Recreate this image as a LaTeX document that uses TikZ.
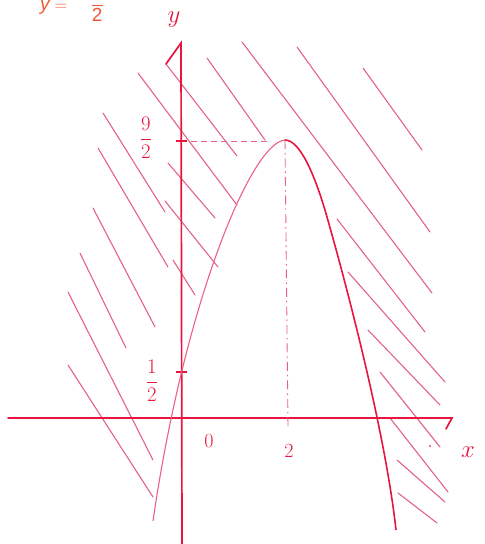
\documentclass[tikz,border=0pt]{standalone}
\usepackage{amsmath}
\usepackage{fontspec}
\newfontfamily\titlefont{Liberation Sans}
\definecolor{axisred}{RGB}{232,22,62}
\definecolor{hatchred}{RGB}{222,70,118}
\definecolor{curvepink}{RGB}{236,95,135}
\definecolor{titleorange}{RGB}{240,88,48}
\begin{document}
\begin{tikzpicture}[x=1pt,y=-1pt,
  axisline/.style={draw=axisred,line width=1.7pt,line cap=round},
  hatch/.style={draw=hatchred,line width=1.1pt,line cap=round,opacity=0.85},
  leftbranch/.style={draw=curvepink,line width=1.1pt},
  rightbranch/.style={draw=axisred,line width=1.6pt},
  guide/.style={draw=curvepink,line width=0.9pt},
  lbl/.style={text=axisred,inner sep=0pt},
  tickmark/.style={draw=axisred,line width=1.6pt}]
\useasboundingbox (0,0) rectangle (485,544);

% title, cut off at the top as in the reference
\node[text=titleorange,inner sep=0pt,anchor=base west,font=\titlefont\fontsize{19}{21}\selectfont] (title) at (40,10) {$\text{\itshape y}=\hspace{19pt}\dfrac{\text{1}}{\text{2}}$};

% hatching
\foreach \xa/\ya/\xb/\yb in {
  68/365/153/497, 68/292/153/460, 80/253/126/348, 93/208/155/327,
  98/148/168/267, 103/113/165/212, 138/73/237/205, 166/64/237/156,
  207/58/265/140, 168/163/215/218, 165/201/218/267, 173/260/195/295,
  242/42/432/293, 297/47/430/232, 363/68/422/150, 337/219/425/332,
  348/272/445/382, 368/330/440/405, 380/372/440/447, 390/418/448/492,
  397/460/445/502, 398/493/437/523}
  \draw[hatch] (\xa,\ya) -- (\xb,\yb);
\fill[hatchred] (430,446) circle (1.2);

% axes
\coordinate (xl) at (8,418);
\coordinate (xr) at (452,418);
\coordinate (xh) at (446,429);
\coordinate (yb) at (182,544);
\coordinate (yt) at (181,43);
\coordinate (yh) at (166,64);
\draw[axisline] (xl) -- (xr) -- (xh);
\draw[axisline] (yb) -- (yt) -- (yh);

% guide lines
\coordinate (t9) at (181,141);
\coordinate (top) at (285,140);
\coordinate (foot) at (288,426);
\draw[guide,dash pattern=on 6pt off 4pt] (t9) -- (268,141);
\draw[guide,dash pattern=on 9pt off 4pt on 1.5pt off 4pt] (top) -- (foot);

% ticks
\draw[tickmark] (176,141) -- (187,141);
\draw[tickmark] (176,372) -- (187,372);

% curve
\coordinate (cstart) at (153,521);
\coordinate (cmid) at (327,217);
\coordinate (cend) at (396,530);
\draw[leftbranch] (cstart) .. controls (185,300) and (252,142) .. (top);
\draw[rightbranch] (top) .. controls (300,140) and (315,175) .. (cmid);
\draw[rightbranch] (cmid) .. controls (345,280) and (385,430) .. (cend);

% labels
\node[lbl,font=\fontsize{28}{30}\selectfont] (ylab) at (174,20) {$y$};
\node[lbl,font=\fontsize{34}{36}\selectfont] (xlab) at (468,452) {$x$};
\node[lbl,font=\fontsize{20}{22}\selectfont] (zero) at (209,441) {0};
\node[lbl,font=\fontsize{20}{22}\selectfont] (two) at (289,451) {2};
\node[lbl,font=\fontsize{20}{22}\selectfont] (half) at (152,381) {$\dfrac{1}{2}$};
\node[lbl,font=\fontsize{20}{22}\selectfont] (ninehalf) at (146,138) {$\dfrac{9}{2}$};
\end{tikzpicture}
\end{document}
